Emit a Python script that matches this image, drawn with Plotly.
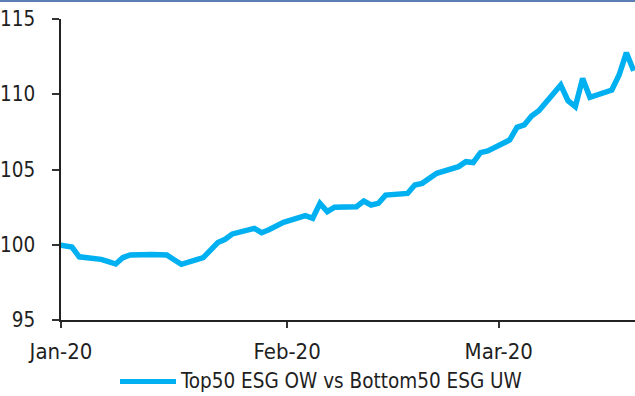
import pandas as pd
import plotly.graph_objects as go

# Daily index level (rebased to 100 at year end 2019), business days only
dates = [
    "2019-12-31", "2020-01-02", "2020-01-03",
    "2020-01-06", "2020-01-07", "2020-01-08", "2020-01-09", "2020-01-10",
    "2020-01-13", "2020-01-14", "2020-01-15", "2020-01-16", "2020-01-17",
    "2020-01-20", "2020-01-21", "2020-01-22", "2020-01-23", "2020-01-24",
    "2020-01-27", "2020-01-28", "2020-01-29", "2020-01-30", "2020-01-31",
    "2020-02-03", "2020-02-04", "2020-02-05", "2020-02-06", "2020-02-07",
    "2020-02-10", "2020-02-11", "2020-02-12", "2020-02-13", "2020-02-14",
    "2020-02-17", "2020-02-18", "2020-02-19", "2020-02-20", "2020-02-21",
    "2020-02-24", "2020-02-25", "2020-02-26", "2020-02-27", "2020-02-28",
    "2020-03-02", "2020-03-03", "2020-03-04", "2020-03-05", "2020-03-06",
    "2020-03-09", "2020-03-10", "2020-03-11", "2020-03-12", "2020-03-13",
    "2020-03-16", "2020-03-17", "2020-03-18", "2020-03-19",
]
values = [
    100.0, 99.85, 99.2,
    99.03, 98.88, 98.72, 99.15, 99.32,
    99.36, 99.37, 99.32, 99.0, 98.7,
    99.15, 99.6, 100.15, 100.36, 100.72,
    101.09, 100.8, 101.0, 101.25, 101.49,
    101.93, 101.76, 102.75, 102.2, 102.5,
    102.53, 102.9, 102.64, 102.75, 103.3,
    103.41, 103.97, 104.08, 104.4, 104.75,
    105.19, 105.52, 105.46, 106.12, 106.23,
    106.96, 107.8, 107.96, 108.55, 108.9,
    110.61, 109.57, 109.17, 111.05, 109.8,
    110.28, 111.28, 112.76, 111.56,
]
series_name = "Top50 ESG OW vs Bottom50 ESG UW"
y_ticks = [95, 100, 105, 110, 115]
x_ticks = ["2020-01-01", "2020-02-01", "2020-03-01"]

LINE_COLOR = "#00B0F0"
FAMILY = "Liberation Sans Narrow, DejaVu Sans Condensed, Arial Narrow, sans-serif"
X_FONT = dict(family=FAMILY, size=22, color="#1f1f1f")
Y_FONT = dict(family=FAMILY, size=20.5, color="#1f1f1f")
LEGEND_FONT = dict(family=FAMILY, size=20.5, color="#1f1f1f")

# each day's value sits in the middle of its day slot on the date axis
x = pd.to_datetime(dates) + pd.Timedelta(hours=12)

fig = go.Figure()
fig.add_trace(go.Scatter(
    x=x, y=values, mode="lines", name=series_name, showlegend=False,
    line=dict(color=LINE_COLOR, width=5.5, shape="linear"),
))

W, H = 635, 396
L, R, T, B = 61, 0, 19, 76
pw, ph = W - L - R, H - T - B

fig.update_layout(
    width=W, height=H,
    margin=dict(l=L, r=R, t=T, b=B, autoexpand=False),
    paper_bgcolor="white", plot_bgcolor="white",
    font=X_FONT,
    xaxis=dict(
        type="date", automargin=False,
        range=["2020-01-01", "2020-03-19 16:20"],
        tickvals=x_ticks, tickformat="%b-%y", tickfont=X_FONT,
        ticks="outside", ticklen=6, tickwidth=1.5, tickcolor="#333",
        showline=True, linecolor="#222", linewidth=1.5,
        showgrid=False, zeroline=False,
        ticklabelstandoff=5,
    ),
    yaxis=dict(
        automargin=False,
        range=[95, 115], tickvals=y_ticks, tickfont=Y_FONT,
        ticks="outside", ticklen=7, tickwidth=1.5, tickcolor="#333",
        showline=True, linecolor="#222", linewidth=1.5,
        showgrid=False, zeroline=False,
        ticklabelstandoff=13,
    ),
    shapes=[
        # thin frame line along the top of the figure
        dict(type="line", xref="paper", yref="paper",
             x0=-L / pw, x1=1, y0=(ph + T - 1) / ph, y1=(ph + T - 1) / ph,
             line=dict(color="#5B7FB4", width=2)),
        # legend swatch
        dict(type="line", xref="paper", yref="paper",
             x0=(120 - L) / pw, x1=(176 - L) / pw,
             y0=-(381.5 - T - ph) / ph, y1=-(381.5 - T - ph) / ph,
             line=dict(color=LINE_COLOR, width=5)),
    ],
    annotations=[
        dict(text=series_name, xref="paper", yref="paper",
             x=(178 - L) / pw, y=-(381 - T - ph) / ph,
             xanchor="left", yanchor="middle", showarrow=False, font=LEGEND_FONT),
    ],
)

fig.write_html("out.html")
